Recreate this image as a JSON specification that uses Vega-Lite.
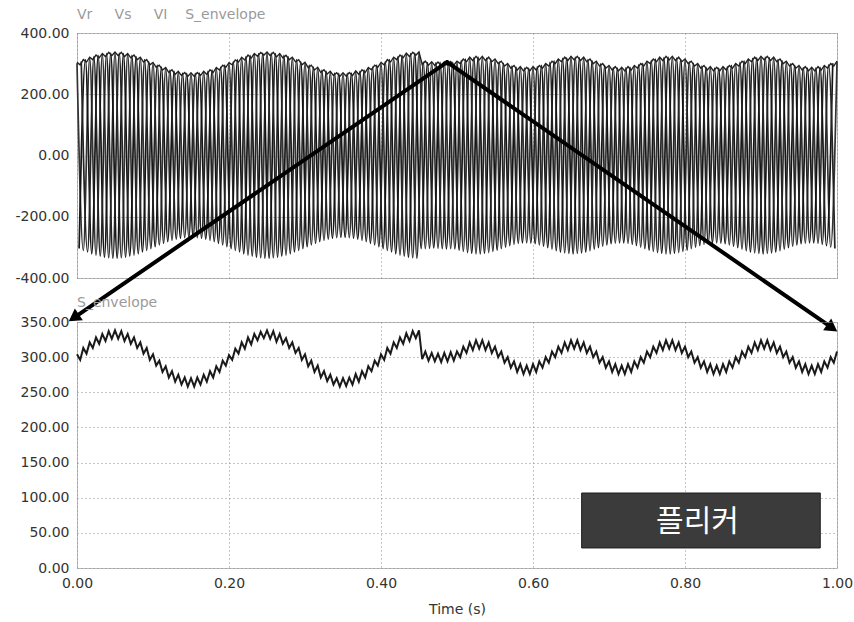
{
"$schema": "https://vega.github.io/schema/vega-lite/v6.json",
"background": "white",
"padding": {"left": 14, "top": 7, "right": 2, "bottom": 2},
"spacing": 44,
"bounds": "flush",
"config": {
  "font": "DejaVu Sans",
  "view": {"stroke": "#777", "strokeDash": [1, 1], "strokeWidth": 1},
  "axis": {"labelFont": "DejaVu Sans", "labelFontSize": 14, "labelColor": "#333", "ticks": false, "domain": false, "grid": true, "gridColor": "#8c8c8c", "gridDash": [1, 3], "gridWidth": 1, "labelPadding": 8, "labelOverlap": false, "titleFont": "DejaVu Sans", "titleFontSize": 14, "titleFontWeight": "normal", "titleColor": "#333"}
},
"datasets": {
"w": [
{"t":0,"v":301,"s":"r"},{"t":0.0028,"v":-304,"s":"l"},{"t":0.0056,"v":307,"s":"s"},{"t":0.0083,"v":-310,"s":"r"},{"t":0.0111,"v":313,"s":"l"},{"t":0.0139,"v":-315,"s":"s"},{"t":0.0167,"v":318,"s":"r"},{"t":0.0194,"v":-321,"s":"l"},{"t":0.0222,"v":323,"s":"s"},{"t":0.025,"v":-325,"s":"r"},{"t":0.0278,"v":327,"s":"l"},{"t":0.0306,"v":-329,"s":"s"},{"t":0.0333,"v":330,"s":"r"},{"t":0.0361,"v":-332,"s":"l"},{"t":0.0389,"v":333,"s":"s"},{"t":0.0417,"v":-334,"s":"r"},{"t":0.0444,"v":334,"s":"l"},{"t":0.0472,"v":-335,"s":"s"},
{"t":0.05,"v":335,"s":"r"},{"t":0.0528,"v":-335,"s":"l"},{"t":0.0556,"v":334,"s":"s"},{"t":0.0583,"v":-334,"s":"r"},{"t":0.0611,"v":333,"s":"l"},{"t":0.0639,"v":-332,"s":"s"},{"t":0.0667,"v":330,"s":"r"},{"t":0.0694,"v":-329,"s":"l"},{"t":0.0722,"v":327,"s":"s"},{"t":0.075,"v":-325,"s":"r"},{"t":0.0778,"v":323,"s":"l"},{"t":0.0806,"v":-321,"s":"s"},{"t":0.0833,"v":318,"s":"r"},{"t":0.0861,"v":-315,"s":"l"},{"t":0.0889,"v":313,"s":"s"},{"t":0.0917,"v":-310,"s":"r"},{"t":0.0944,"v":307,"s":"l"},{"t":0.0972,"v":-304,"s":"s"},
{"t":0.1,"v":301,"s":"r"},{"t":0.1028,"v":-298,"s":"l"},{"t":0.1056,"v":295,"s":"s"},{"t":0.1083,"v":-292,"s":"r"},{"t":0.1111,"v":289,"s":"l"},{"t":0.1139,"v":-287,"s":"s"},{"t":0.1167,"v":284,"s":"r"},{"t":0.1194,"v":-281,"s":"l"},{"t":0.1222,"v":279,"s":"s"},{"t":0.125,"v":-277,"s":"r"},{"t":0.1278,"v":275,"s":"l"},{"t":0.1306,"v":-273,"s":"s"},{"t":0.1333,"v":272,"s":"r"},{"t":0.1361,"v":-270,"s":"l"},{"t":0.1389,"v":269,"s":"s"},{"t":0.1417,"v":-268,"s":"r"},{"t":0.1444,"v":268,"s":"l"},{"t":0.1472,"v":-267,"s":"s"},
{"t":0.15,"v":267,"s":"r"},{"t":0.1528,"v":-267,"s":"l"},{"t":0.1556,"v":268,"s":"s"},{"t":0.1583,"v":-268,"s":"r"},{"t":0.1611,"v":269,"s":"l"},{"t":0.1639,"v":-270,"s":"s"},{"t":0.1667,"v":272,"s":"r"},{"t":0.1694,"v":-273,"s":"l"},{"t":0.1722,"v":275,"s":"s"},{"t":0.175,"v":-277,"s":"r"},{"t":0.1778,"v":279,"s":"l"},{"t":0.1806,"v":-281,"s":"s"},{"t":0.1833,"v":284,"s":"r"},{"t":0.1861,"v":-287,"s":"l"},{"t":0.1889,"v":289,"s":"s"},{"t":0.1917,"v":-292,"s":"r"},{"t":0.1944,"v":295,"s":"l"},{"t":0.1972,"v":-298,"s":"s"},
{"t":0.2,"v":301,"s":"r"},{"t":0.2028,"v":-304,"s":"l"},{"t":0.2056,"v":307,"s":"s"},{"t":0.2083,"v":-310,"s":"r"},{"t":0.2111,"v":313,"s":"l"},{"t":0.2139,"v":-315,"s":"s"},{"t":0.2167,"v":318,"s":"r"},{"t":0.2194,"v":-321,"s":"l"},{"t":0.2222,"v":323,"s":"s"},{"t":0.225,"v":-325,"s":"r"},{"t":0.2278,"v":327,"s":"l"},{"t":0.2306,"v":-329,"s":"s"},{"t":0.2333,"v":330,"s":"r"},{"t":0.2361,"v":-332,"s":"l"},{"t":0.2389,"v":333,"s":"s"},{"t":0.2417,"v":-334,"s":"r"},{"t":0.2444,"v":334,"s":"l"},{"t":0.2472,"v":-335,"s":"s"},
{"t":0.25,"v":335,"s":"r"},{"t":0.2528,"v":-335,"s":"l"},{"t":0.2556,"v":334,"s":"s"},{"t":0.2583,"v":-334,"s":"r"},{"t":0.2611,"v":333,"s":"l"},{"t":0.2639,"v":-332,"s":"s"},{"t":0.2667,"v":330,"s":"r"},{"t":0.2694,"v":-329,"s":"l"},{"t":0.2722,"v":327,"s":"s"},{"t":0.275,"v":-325,"s":"r"},{"t":0.2778,"v":323,"s":"l"},{"t":0.2806,"v":-321,"s":"s"},{"t":0.2833,"v":318,"s":"r"},{"t":0.2861,"v":-315,"s":"l"},{"t":0.2889,"v":313,"s":"s"},{"t":0.2917,"v":-310,"s":"r"},{"t":0.2944,"v":307,"s":"l"},{"t":0.2972,"v":-304,"s":"s"},
{"t":0.3,"v":301,"s":"r"},{"t":0.3028,"v":-298,"s":"l"},{"t":0.3056,"v":295,"s":"s"},{"t":0.3083,"v":-292,"s":"r"},{"t":0.3111,"v":289,"s":"l"},{"t":0.3139,"v":-287,"s":"s"},{"t":0.3167,"v":284,"s":"r"},{"t":0.3194,"v":-281,"s":"l"},{"t":0.3222,"v":279,"s":"s"},{"t":0.325,"v":-277,"s":"r"},{"t":0.3278,"v":275,"s":"l"},{"t":0.3306,"v":-273,"s":"s"},{"t":0.3333,"v":272,"s":"r"},{"t":0.3361,"v":-270,"s":"l"},{"t":0.3389,"v":269,"s":"s"},{"t":0.3417,"v":-268,"s":"r"},{"t":0.3444,"v":268,"s":"l"},{"t":0.3472,"v":-267,"s":"s"},
{"t":0.35,"v":267,"s":"r"},{"t":0.3528,"v":-267,"s":"l"},{"t":0.3556,"v":268,"s":"s"},{"t":0.3583,"v":-268,"s":"r"},{"t":0.3611,"v":269,"s":"l"},{"t":0.3639,"v":-270,"s":"s"},{"t":0.3667,"v":272,"s":"r"},{"t":0.3694,"v":-273,"s":"l"},{"t":0.3722,"v":275,"s":"s"},{"t":0.375,"v":-277,"s":"r"},{"t":0.3778,"v":279,"s":"l"},{"t":0.3806,"v":-281,"s":"s"},{"t":0.3833,"v":284,"s":"r"},{"t":0.3861,"v":-287,"s":"l"},{"t":0.3889,"v":289,"s":"s"},{"t":0.3917,"v":-292,"s":"r"},{"t":0.3944,"v":295,"s":"l"},{"t":0.3972,"v":-298,"s":"s"},
{"t":0.4,"v":301,"s":"r"},{"t":0.4028,"v":-304,"s":"l"},{"t":0.4056,"v":307,"s":"s"},{"t":0.4083,"v":-310,"s":"r"},{"t":0.4111,"v":313,"s":"l"},{"t":0.4139,"v":-315,"s":"s"},{"t":0.4167,"v":318,"s":"r"},{"t":0.4194,"v":-321,"s":"l"},{"t":0.4222,"v":323,"s":"s"},{"t":0.425,"v":-325,"s":"r"},{"t":0.4278,"v":327,"s":"l"},{"t":0.4306,"v":-329,"s":"s"},{"t":0.4333,"v":330,"s":"r"},{"t":0.4361,"v":-332,"s":"l"},{"t":0.4389,"v":333,"s":"s"},{"t":0.4417,"v":-334,"s":"r"},{"t":0.4444,"v":334,"s":"l"},{"t":0.4472,"v":-335,"s":"s"},
{"t":0.45,"v":335,"s":"r"},{"t":0.4528,"v":-304,"s":"l"},{"t":0.4556,"v":305,"s":"s"},{"t":0.4583,"v":-304,"s":"r"},{"t":0.4611,"v":303,"s":"l"},{"t":0.4639,"v":-303,"s":"s"},{"t":0.4667,"v":302,"s":"r"},{"t":0.4694,"v":-302,"s":"l"},{"t":0.4722,"v":303,"s":"s"},{"t":0.475,"v":-303,"s":"r"},{"t":0.4778,"v":304,"s":"l"},{"t":0.4806,"v":-304,"s":"s"},{"t":0.4833,"v":304,"s":"r"},{"t":0.4861,"v":-305,"s":"l"},{"t":0.4889,"v":305,"s":"s"},{"t":0.4917,"v":-304,"s":"r"},{"t":0.4944,"v":304,"s":"l"},{"t":0.4972,"v":-305,"s":"s"},
{"t":0.5,"v":306,"s":"r"},{"t":0.5028,"v":-309,"s":"l"},{"t":0.5056,"v":311,"s":"s"},{"t":0.5083,"v":-313,"s":"r"},{"t":0.5111,"v":315,"s":"l"},{"t":0.5139,"v":-317,"s":"s"},{"t":0.5167,"v":318,"s":"r"},{"t":0.5194,"v":-319,"s":"l"},{"t":0.5222,"v":320,"s":"s"},{"t":0.525,"v":-321,"s":"r"},{"t":0.5278,"v":321,"s":"l"},{"t":0.5306,"v":-321,"s":"s"},{"t":0.5333,"v":320,"s":"r"},{"t":0.5361,"v":-319,"s":"l"},{"t":0.5389,"v":318,"s":"s"},{"t":0.5417,"v":-317,"s":"r"},{"t":0.5444,"v":315,"s":"l"},{"t":0.5472,"v":-313,"s":"s"},
{"t":0.55,"v":311,"s":"r"},{"t":0.5528,"v":-309,"s":"l"},{"t":0.5556,"v":306,"s":"s"},{"t":0.5583,"v":-304,"s":"r"},{"t":0.5611,"v":301,"s":"l"},{"t":0.5639,"v":-299,"s":"s"},{"t":0.5667,"v":296,"s":"r"},{"t":0.5694,"v":-294,"s":"l"},{"t":0.5722,"v":292,"s":"s"},{"t":0.575,"v":-290,"s":"r"},{"t":0.5778,"v":288,"s":"l"},{"t":0.5806,"v":-287,"s":"s"},{"t":0.5833,"v":286,"s":"r"},{"t":0.5861,"v":-285,"s":"l"},{"t":0.5889,"v":285,"s":"s"},{"t":0.5917,"v":-285,"s":"r"},{"t":0.5944,"v":285,"s":"l"},{"t":0.5972,"v":-286,"s":"s"},
{"t":0.6,"v":287,"s":"r"},{"t":0.6028,"v":-288,"s":"l"},{"t":0.6056,"v":290,"s":"s"},{"t":0.6083,"v":-292,"s":"r"},{"t":0.6111,"v":294,"s":"l"},{"t":0.6139,"v":-296,"s":"s"},{"t":0.6167,"v":299,"s":"r"},{"t":0.6194,"v":-301,"s":"l"},{"t":0.6222,"v":304,"s":"s"},{"t":0.625,"v":-306,"s":"r"},{"t":0.6278,"v":309,"s":"l"},{"t":0.6306,"v":-311,"s":"s"},{"t":0.6333,"v":313,"s":"r"},{"t":0.6361,"v":-315,"s":"l"},{"t":0.6389,"v":317,"s":"s"},{"t":0.6417,"v":-318,"s":"r"},{"t":0.6444,"v":319,"s":"l"},{"t":0.6472,"v":-320,"s":"s"},
{"t":0.65,"v":321,"s":"r"},{"t":0.6528,"v":-321,"s":"l"},{"t":0.6556,"v":321,"s":"s"},{"t":0.6583,"v":-320,"s":"r"},{"t":0.6611,"v":319,"s":"l"},{"t":0.6639,"v":-318,"s":"s"},{"t":0.6667,"v":317,"s":"r"},{"t":0.6694,"v":-315,"s":"l"},{"t":0.6722,"v":313,"s":"s"},{"t":0.675,"v":-311,"s":"r"},{"t":0.6778,"v":309,"s":"l"},{"t":0.6806,"v":-306,"s":"s"},{"t":0.6833,"v":304,"s":"r"},{"t":0.6861,"v":-301,"s":"l"},{"t":0.6889,"v":299,"s":"s"},{"t":0.6917,"v":-296,"s":"r"},{"t":0.6944,"v":294,"s":"l"},{"t":0.6972,"v":-292,"s":"s"},
{"t":0.7,"v":290,"s":"r"},{"t":0.7028,"v":-288,"s":"l"},{"t":0.7056,"v":287,"s":"s"},{"t":0.7083,"v":-286,"s":"r"},{"t":0.7111,"v":285,"s":"l"},{"t":0.7139,"v":-285,"s":"s"},{"t":0.7167,"v":285,"s":"r"},{"t":0.7194,"v":-285,"s":"l"},{"t":0.7222,"v":286,"s":"s"},{"t":0.725,"v":-287,"s":"r"},{"t":0.7278,"v":288,"s":"l"},{"t":0.7306,"v":-290,"s":"s"},{"t":0.7333,"v":292,"s":"r"},{"t":0.7361,"v":-294,"s":"l"},{"t":0.7389,"v":296,"s":"s"},{"t":0.7417,"v":-299,"s":"r"},{"t":0.7444,"v":301,"s":"l"},{"t":0.7472,"v":-304,"s":"s"},
{"t":0.75,"v":306,"s":"r"},{"t":0.7528,"v":-309,"s":"l"},{"t":0.7556,"v":311,"s":"s"},{"t":0.7583,"v":-313,"s":"r"},{"t":0.7611,"v":315,"s":"l"},{"t":0.7639,"v":-317,"s":"s"},{"t":0.7667,"v":318,"s":"r"},{"t":0.7694,"v":-319,"s":"l"},{"t":0.7722,"v":320,"s":"s"},{"t":0.775,"v":-321,"s":"r"},{"t":0.7778,"v":321,"s":"l"},{"t":0.7806,"v":-321,"s":"s"},{"t":0.7833,"v":320,"s":"r"},{"t":0.7861,"v":-319,"s":"l"},{"t":0.7889,"v":318,"s":"s"},{"t":0.7917,"v":-317,"s":"r"},{"t":0.7944,"v":315,"s":"l"},{"t":0.7972,"v":-313,"s":"s"},
{"t":0.8,"v":311,"s":"r"},{"t":0.8028,"v":-309,"s":"l"},{"t":0.8056,"v":306,"s":"s"},{"t":0.8083,"v":-304,"s":"r"},{"t":0.8111,"v":301,"s":"l"},{"t":0.8139,"v":-299,"s":"s"},{"t":0.8167,"v":296,"s":"r"},{"t":0.8194,"v":-294,"s":"l"},{"t":0.8222,"v":292,"s":"s"},{"t":0.825,"v":-290,"s":"r"},{"t":0.8278,"v":288,"s":"l"},{"t":0.8306,"v":-287,"s":"s"},{"t":0.8333,"v":286,"s":"r"},{"t":0.8361,"v":-285,"s":"l"},{"t":0.8389,"v":285,"s":"s"},{"t":0.8417,"v":-285,"s":"r"},{"t":0.8444,"v":285,"s":"l"},{"t":0.8472,"v":-286,"s":"s"},
{"t":0.85,"v":287,"s":"r"},{"t":0.8528,"v":-288,"s":"l"},{"t":0.8556,"v":290,"s":"s"},{"t":0.8583,"v":-292,"s":"r"},{"t":0.8611,"v":294,"s":"l"},{"t":0.8639,"v":-296,"s":"s"},{"t":0.8667,"v":299,"s":"r"},{"t":0.8694,"v":-301,"s":"l"},{"t":0.8722,"v":304,"s":"s"},{"t":0.875,"v":-306,"s":"r"},{"t":0.8778,"v":309,"s":"l"},{"t":0.8806,"v":-311,"s":"s"},{"t":0.8833,"v":313,"s":"r"},{"t":0.8861,"v":-315,"s":"l"},{"t":0.8889,"v":317,"s":"s"},{"t":0.8917,"v":-318,"s":"r"},{"t":0.8944,"v":319,"s":"l"},{"t":0.8972,"v":-320,"s":"s"},
{"t":0.9,"v":321,"s":"r"},{"t":0.9028,"v":-321,"s":"l"},{"t":0.9056,"v":321,"s":"s"},{"t":0.9083,"v":-320,"s":"r"},{"t":0.9111,"v":319,"s":"l"},{"t":0.9139,"v":-318,"s":"s"},{"t":0.9167,"v":317,"s":"r"},{"t":0.9194,"v":-315,"s":"l"},{"t":0.9222,"v":313,"s":"s"},{"t":0.925,"v":-311,"s":"r"},{"t":0.9278,"v":309,"s":"l"},{"t":0.9306,"v":-306,"s":"s"},{"t":0.9333,"v":304,"s":"r"},{"t":0.9361,"v":-301,"s":"l"},{"t":0.9389,"v":299,"s":"s"},{"t":0.9417,"v":-296,"s":"r"},{"t":0.9444,"v":294,"s":"l"},{"t":0.9472,"v":-292,"s":"s"},
{"t":0.95,"v":290,"s":"r"},{"t":0.9528,"v":-288,"s":"l"},{"t":0.9556,"v":287,"s":"s"},{"t":0.9583,"v":-286,"s":"r"},{"t":0.9611,"v":285,"s":"l"},{"t":0.9639,"v":-285,"s":"s"},{"t":0.9667,"v":285,"s":"r"},{"t":0.9694,"v":-285,"s":"l"},{"t":0.9722,"v":286,"s":"s"},{"t":0.975,"v":-287,"s":"r"},{"t":0.9778,"v":288,"s":"l"},{"t":0.9806,"v":-290,"s":"s"},{"t":0.9833,"v":292,"s":"r"},{"t":0.9861,"v":-294,"s":"l"},{"t":0.9889,"v":296,"s":"s"},{"t":0.9917,"v":-299,"s":"r"},{"t":0.9944,"v":301,"s":"l"},{"t":0.9972,"v":-304,"s":"s"},
{"t":1,"v":306,"s":"r"}
],
"e": [
{"t":0,"v":304},{"t":0.0042,"v":296},{"t":0.0083,"v":313},{"t":0.0125,"v":305},{"t":0.0167,"v":321},{"t":0.0208,"v":313},{"t":0.025,"v":328},{"t":0.0292,"v":319},{"t":0.0333,"v":333},{"t":0.0375,"v":323},{"t":0.0417,"v":337},{"t":0.0458,"v":326},
{"t":0.05,"v":338},{"t":0.0542,"v":326},{"t":0.0583,"v":337},{"t":0.0625,"v":323},{"t":0.0667,"v":333},{"t":0.0708,"v":319},{"t":0.075,"v":328},{"t":0.0792,"v":313},{"t":0.0833,"v":321},{"t":0.0875,"v":305},{"t":0.0917,"v":313},{"t":0.0958,"v":296},
{"t":0.1,"v":304},{"t":0.1042,"v":288},{"t":0.1083,"v":295},{"t":0.1125,"v":279},{"t":0.1167,"v":287},{"t":0.1208,"v":271},{"t":0.125,"v":280},{"t":0.1292,"v":265},{"t":0.1333,"v":275},{"t":0.1375,"v":261},{"t":0.1417,"v":271},{"t":0.1458,"v":258},
{"t":0.15,"v":270},{"t":0.1542,"v":258},{"t":0.1583,"v":271},{"t":0.1625,"v":261},{"t":0.1667,"v":275},{"t":0.1708,"v":265},{"t":0.175,"v":280},{"t":0.1792,"v":271},{"t":0.1833,"v":287},{"t":0.1875,"v":279},{"t":0.1917,"v":295},{"t":0.1958,"v":288},
{"t":0.2,"v":303},{"t":0.2042,"v":296},{"t":0.2083,"v":312},{"t":0.2125,"v":305},{"t":0.2167,"v":321},{"t":0.2208,"v":312},{"t":0.225,"v":328},{"t":0.2292,"v":318},{"t":0.2333,"v":333},{"t":0.2375,"v":324},{"t":0.2417,"v":336},{"t":0.2458,"v":327},
{"t":0.25,"v":338},{"t":0.2542,"v":326},{"t":0.2583,"v":337},{"t":0.2625,"v":322},{"t":0.2667,"v":333},{"t":0.2708,"v":319},{"t":0.275,"v":327},{"t":0.2792,"v":313},{"t":0.2833,"v":321},{"t":0.2875,"v":306},{"t":0.2917,"v":313},{"t":0.2958,"v":296},
{"t":0.3,"v":304},{"t":0.3042,"v":287},{"t":0.3083,"v":295},{"t":0.3125,"v":279},{"t":0.3167,"v":288},{"t":0.3208,"v":271},{"t":0.325,"v":280},{"t":0.3292,"v":266},{"t":0.3333,"v":275},{"t":0.3375,"v":261},{"t":0.3417,"v":270},{"t":0.3458,"v":258},
{"t":0.35,"v":270},{"t":0.3542,"v":259},{"t":0.3583,"v":271},{"t":0.3625,"v":261},{"t":0.3667,"v":276},{"t":0.3708,"v":265},{"t":0.375,"v":280},{"t":0.3792,"v":271},{"t":0.3833,"v":287},{"t":0.3875,"v":280},{"t":0.3917,"v":295},{"t":0.3958,"v":288},
{"t":0.4,"v":304},{"t":0.4042,"v":296},{"t":0.4083,"v":313},{"t":0.4125,"v":305},{"t":0.4167,"v":321},{"t":0.4208,"v":313},{"t":0.425,"v":328},{"t":0.4292,"v":319},{"t":0.4333,"v":334},{"t":0.4375,"v":323},{"t":0.4417,"v":337},{"t":0.4458,"v":327},
{"t":0.45,"v":338},{"t":0.4542,"v":297},{"t":0.4583,"v":308},{"t":0.4625,"v":295},{"t":0.4667,"v":306},{"t":0.4708,"v":294},{"t":0.475,"v":305},{"t":0.4792,"v":293},{"t":0.4833,"v":306},{"t":0.4875,"v":294},{"t":0.4917,"v":307},{"t":0.4958,"v":295},
{"t":0.5,"v":308},{"t":0.5042,"v":300},{"t":0.5083,"v":315},{"t":0.5125,"v":306},{"t":0.5167,"v":321},{"t":0.5208,"v":310},{"t":0.525,"v":324},{"t":0.5292,"v":312},{"t":0.5333,"v":324},{"t":0.5375,"v":310},{"t":0.5417,"v":321},{"t":0.5458,"v":306},
{"t":0.55,"v":315},{"t":0.5542,"v":300},{"t":0.5583,"v":308},{"t":0.5625,"v":292},{"t":0.5667,"v":300},{"t":0.5708,"v":285},{"t":0.575,"v":294},{"t":0.5792,"v":279},{"t":0.5833,"v":290},{"t":0.5875,"v":276},{"t":0.5917,"v":288},{"t":0.5958,"v":276},
{"t":0.6,"v":290},{"t":0.6042,"v":279},{"t":0.6083,"v":294},{"t":0.6125,"v":285},{"t":0.6167,"v":300},{"t":0.6208,"v":292},{"t":0.625,"v":308},{"t":0.6292,"v":300},{"t":0.6333,"v":315},{"t":0.6375,"v":306},{"t":0.6417,"v":321},{"t":0.6458,"v":310},
{"t":0.65,"v":324},{"t":0.6542,"v":312},{"t":0.6583,"v":324},{"t":0.6625,"v":310},{"t":0.6667,"v":321},{"t":0.6708,"v":306},{"t":0.675,"v":315},{"t":0.6792,"v":300},{"t":0.6833,"v":308},{"t":0.6875,"v":292},{"t":0.6917,"v":300},{"t":0.6958,"v":285},
{"t":0.7,"v":294},{"t":0.7042,"v":279},{"t":0.7083,"v":290},{"t":0.7125,"v":276},{"t":0.7167,"v":288},{"t":0.7208,"v":276},{"t":0.725,"v":290},{"t":0.7292,"v":279},{"t":0.7333,"v":294},{"t":0.7375,"v":285},{"t":0.7417,"v":300},{"t":0.7458,"v":292},
{"t":0.75,"v":308},{"t":0.7542,"v":300},{"t":0.7583,"v":315},{"t":0.7625,"v":306},{"t":0.7667,"v":321},{"t":0.7708,"v":310},{"t":0.775,"v":324},{"t":0.7792,"v":312},{"t":0.7833,"v":324},{"t":0.7875,"v":310},{"t":0.7917,"v":321},{"t":0.7958,"v":306},
{"t":0.8,"v":315},{"t":0.8042,"v":300},{"t":0.8083,"v":308},{"t":0.8125,"v":292},{"t":0.8167,"v":300},{"t":0.8208,"v":285},{"t":0.825,"v":294},{"t":0.8292,"v":279},{"t":0.8333,"v":290},{"t":0.8375,"v":276},{"t":0.8417,"v":288},{"t":0.8458,"v":276},
{"t":0.85,"v":290},{"t":0.8542,"v":279},{"t":0.8583,"v":294},{"t":0.8625,"v":285},{"t":0.8667,"v":300},{"t":0.8708,"v":292},{"t":0.875,"v":308},{"t":0.8792,"v":300},{"t":0.8833,"v":315},{"t":0.8875,"v":306},{"t":0.8917,"v":321},{"t":0.8958,"v":310},
{"t":0.9,"v":324},{"t":0.9042,"v":312},{"t":0.9083,"v":324},{"t":0.9125,"v":310},{"t":0.9167,"v":321},{"t":0.9208,"v":306},{"t":0.925,"v":315},{"t":0.9292,"v":300},{"t":0.9333,"v":308},{"t":0.9375,"v":292},{"t":0.9417,"v":300},{"t":0.9458,"v":285},
{"t":0.95,"v":294},{"t":0.9542,"v":279},{"t":0.9583,"v":290},{"t":0.9625,"v":276},{"t":0.9667,"v":288},{"t":0.9708,"v":276},{"t":0.975,"v":290},{"t":0.9792,"v":279},{"t":0.9833,"v":294},{"t":0.9875,"v":285},{"t":0.9917,"v":300},{"t":0.9958,"v":292},
{"t":1,"v":308}
]
},
"vconcat": [
{
  "width": 760, "height": 245,
  "title": {"text": "Vr\u00a0\u00a0\u00a0\u00a0\u00a0Vs\u00a0\u00a0\u00a0\u00a0\u00a0VI\u00a0\u00a0\u00a0\u00a0S_envelope", "anchor": "start", "frame": "group", "font": "DejaVu Sans", "fontSize": 14, "fontWeight": "normal", "color": "#9a9a9a", "baseline": "alphabetic", "offset": -7},
  "encoding": {
    "x": {"field": "t", "type": "quantitative", "scale": {"domain": [0, 1], "nice": false, "zero": false}, "axis": {"labels": false, "title": null, "values": [0, 0.2, 0.4, 0.6, 0.8, 1]}},
    "y": {"field": "v", "type": "quantitative", "scale": {"domain": [-400, 400], "nice": false, "zero": false}, "axis": {"title": null, "values": [-400, -200, 0, 200, 400], "labelExpr": "(datum.value < 0 ? '-' : '') + format(abs(datum.value), '.2f')", "minExtent": 62, "maxExtent": 62}}
  },
  "layer": [
    {"data": {"name": "w"}, "mark": {"type": "line", "interpolate": "monotone", "strokeWidth": 1.7}, "encoding": {"color": {"field": "s", "type": "nominal", "scale": {"range": ["#151515", "#333333", "#242424"]}, "legend": null}}},
    {"data": {"name": "e"}, "mark": {"type": "line", "strokeWidth": 1.4, "color": "#222"}},
    {"data": {"values": [{"t": 0.487, "v": 305, "t2": -0.0042, "v2": -530}, {"t": 0.487, "v": 305, "t2": 0.9937, "v2": -563}]}, "mark": {"type": "rule", "strokeWidth": 4, "color": "#000", "strokeCap": "round", "clip": false}, "encoding": {"x2": {"field": "t2"}, "y2": {"field": "v2"}}},
    {"data": {"values": [{"t": -0.0042, "v": -530}]}, "mark": {"type": "point", "shape": "triangle-up", "angle": 235.6, "size": 200, "filled": true, "color": "#000", "opacity": 1, "clip": false}},
    {"data": {"values": [{"t": 0.9937, "v": -563}]}, "mark": {"type": "point", "shape": "triangle-up", "angle": 124.6, "size": 200, "filled": true, "color": "#000", "opacity": 1, "clip": false}}
  ]
},
{
  "width": 760, "height": 246,
  "title": {"text": "S_envelope", "anchor": "start", "frame": "group", "font": "DejaVu Sans", "fontSize": 14, "fontWeight": "normal", "color": "#9a9a9a", "baseline": "alphabetic", "offset": -6},
  "encoding": {
    "x": {"field": "t", "type": "quantitative", "scale": {"domain": [0, 1], "nice": false, "zero": false}, "axis": {"title": "Time (s)", "values": [0, 0.2, 0.4, 0.6, 0.8, 1], "format": ".2f", "labelFlush": false, "titlePadding": 12}},
    "y": {"field": "v", "type": "quantitative", "scale": {"domain": [0, 350], "nice": false, "zero": false}, "axis": {"title": null, "values": [0, 50, 100, 150, 200, 250, 300, 350], "format": ".2f", "minExtent": 62, "maxExtent": 62}}
  },
  "layer": [
    {"data": {"name": "e"}, "mark": {"type": "line", "strokeWidth": 2, "color": "#1a1a1a"}},
    {"data": {"values": [{"t": 0.664, "t2": 0.978, "v": 28.5, "v2": 106.7}]}, "mark": {"type": "rect", "fill": "#3b3b3b", "stroke": "#1e1e1e", "strokeWidth": 1}, "encoding": {"x2": {"field": "t2"}, "y2": {"field": "v2"}}},
    {"data": {"values": [{"t": 0.8164, "v": 66, "label": "플리커"}]}, "mark": {"type": "text", "font": "Noto Sans CJK KR", "fontSize": 30, "color": "#ffffff", "align": "center", "baseline": "middle"}, "encoding": {"text": {"field": "label"}}}
  ]
}
]
}
